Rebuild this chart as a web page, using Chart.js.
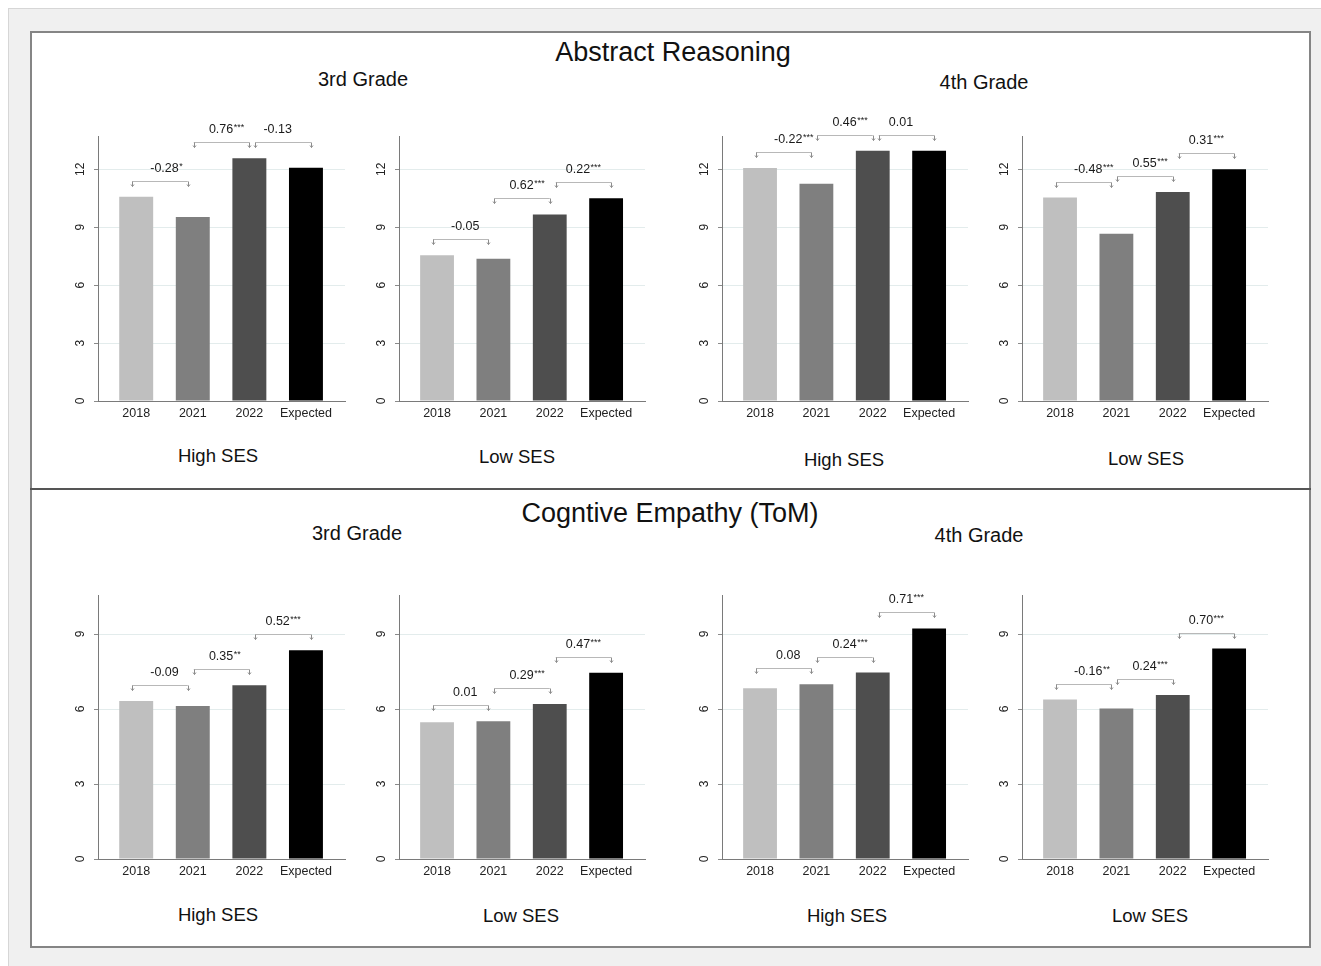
<!DOCTYPE html>
<html>
<head>
<meta charset="utf-8">
<script src="https://cdn.jsdelivr.net/npm/chart.js@4/dist/chart.umd.min.js"></script>
<style>
  body { margin:0; width:1321px; height:966px; position:relative; overflow:hidden; background:#fff;
         font-family:'Liberation Sans', Arial, Helvetica, sans-serif; color:#111; }
  .bg { position:absolute; left:8px; top:8px; width:1313px; height:958px; background:#f0f0f0;
        border-top:1px solid #d6d6d6; border-left:1px solid #d6d6d6; box-sizing:border-box; }
  .frame { position:absolute; left:30px; top:31px; width:1281px; height:917px; background:#fff;
           border:2px solid #858585; box-sizing:border-box; }
  .sep { position:absolute; left:30px; top:488px; width:1281px; height:2px; background:#555; }
  .t { position:absolute; transform:translate(-50%,-50%); white-space:nowrap; line-height:1; }
  .h1 { font-size:27px; }
  .h2 { font-size:20px; }
  .h3 { font-size:18.5px; }
  canvas { position:absolute; }
</style>
</head>
<body>
<div class="bg"></div>
<div class="frame"></div>
<div class="sep"></div>

<div class="t h1" style="left:673px;top:52px">Abstract Reasoning</div>
<div class="t h2" style="left:363px;top:79px">3rd Grade</div>
<div class="t h2" style="left:984px;top:82px">4th Grade</div>
<div class="t h3" style="left:218px;top:456px">High SES</div>
<div class="t h3" style="left:517px;top:457px">Low SES</div>
<div class="t h3" style="left:844px;top:460px">High SES</div>
<div class="t h3" style="left:1146px;top:459px">Low SES</div>

<div class="t h1" style="left:670px;top:513px">Cogntive Empathy (ToM)</div>
<div class="t h2" style="left:357px;top:533px">3rd Grade</div>
<div class="t h2" style="left:979px;top:535px">4th Grade</div>
<div class="t h3" style="left:218px;top:915px">High SES</div>
<div class="t h3" style="left:521px;top:916px">Low SES</div>
<div class="t h3" style="left:847px;top:916px">High SES</div>
<div class="t h3" style="left:1150px;top:916px">Low SES</div>

<script>
// categories and mean scores
var categories = ['2018', '2021', '2022', 'Expected'];

var abstractG3High = [10.57, 9.52, 12.57, 12.07];
var abstractG3Low  = [7.54, 7.37, 9.66, 10.50];
var abstractG4High = [12.06, 11.25, 12.96, 12.96];
var abstractG4Low  = [10.53, 8.66, 10.82, 12.00];

var tomG3High = [6.32, 6.12, 6.95, 8.35];
var tomG3Low  = [5.47, 5.51, 6.20, 7.45];
var tomG4High = [6.83, 6.99, 7.46, 9.22];
var tomG4Low  = [6.38, 6.02, 6.56, 8.42];

// effect sizes between consecutive bars
var abstractG3HighDiff = ['-0.28*', '0.76***', '-0.13'];
var abstractG3LowDiff  = ['-0.05', '0.62***', '0.22***'];
var abstractG4HighDiff = ['-0.22***', '0.46***', '0.01'];
var abstractG4LowDiff  = ['-0.48***', '0.55***', '0.31***'];
var tomG3HighDiff = ['-0.09', '0.35**', '0.52***'];
var tomG3LowDiff  = ['0.01', '0.29***', '0.47***'];
var tomG4HighDiff = ['0.08', '0.24***', '0.71***'];
var tomG4LowDiff  = ['-0.16**', '0.24***', '0.70***'];

var barColors = ['#bfbfbf', '#7f7f7f', '#4e4e4e', '#000000'];

Chart.defaults.font.family = "'Liberation Sans', Arial, Helvetica, sans-serif";
Chart.defaults.color = '#222';

var axisX = [98, 399, 722, 1022];
var rightX = [345, 645, 968, 1268];
var rowTop = [136, 595];
var rowBottom = [401, 859];
var rowMax = [13.72, 10.56];
var bracketShift = [-4, 1, 6];

var panels = [
  [abstractG3High, abstractG3HighDiff, 0, 0],
  [abstractG3Low, abstractG3LowDiff, 0, 1],
  [abstractG4High, abstractG4HighDiff, 0, 2],
  [abstractG4Low, abstractG4LowDiff, 0, 3],
  [tomG3High, tomG3HighDiff, 1, 0],
  [tomG3Low, tomG3LowDiff, 1, 1],
  [tomG4High, tomG4HighDiff, 1, 2],
  [tomG4Low, tomG4LowDiff, 1, 3]
];

var padTop = 45, yW = 50, xH = 30, padR = 6;

panels.forEach(function (p) {
  var values = p[0], diffs = p[1], r = p[2], c = p[3];
  var plotW = rightX[c] - axisX[c];
  var plotH = rowBottom[r] - rowTop[r];
  var cv = document.createElement('canvas');
  cv.width = yW + plotW + padR;
  cv.height = padTop + plotH + xH;
  cv.style.left = (axisX[c] - yW) + 'px';
  cv.style.top = (rowTop[r] - padTop) + 'px';
  document.body.appendChild(cv);

  new Chart(cv.getContext('2d'), {
    type: 'bar',
    data: {
      datasets: [{
        data: values.map(function (v, i) { return {x: i, y: v}; }),
        backgroundColor: barColors,
        borderWidth: 0,
        categoryPercentage: 1,
        barPercentage: 0.6
      }]
    },
    options: {
      responsive: false,
      animation: false,
      devicePixelRatio: 1,
      layout: { padding: { top: padTop, right: padR, left: 0, bottom: 0 } },
      plugins: { legend: { display: false }, tooltip: { enabled: false } },
      scales: {
        x: {
          type: 'linear',
          offset: false,
          min: -0.675,
          max: 3.69,
          afterBuildTicks: function (s) { s.ticks = categories.map(function (c, i) { return {value: i}; }); },
          afterFit: function (s) { s.height = xH; },
          grid: { display: false, drawTicks: false },
          border: { color: '#7a7a7a', width: 1 },
          ticks: {
            padding: 5,
            maxRotation: 0,
            font: { size: 12.5 },
            color: '#222',
            callback: function (v) { return categories[v]; }
          }
        },
        y: {
          min: 0,
          max: rowMax[r],
          afterBuildTicks: function (s) {
            var t = [];
            for (var v = 0; v <= rowMax[r]; v += 3) t.push({value: v});
            s.ticks = t;
          },
          afterFit: function (s) { s.width = yW; },
          grid: { color: '#e3ecec', lineWidth: 1, tickColor: '#8a8a8a', tickLength: 4 },
          border: { color: '#7a7a7a', width: 1 },
          ticks: { display: false }
        }
      }
    },
    plugins: [{
      id: 'annot',
      afterDraw: function (chart) {
        var ctx = chart.ctx, xs = chart.scales.x, ys = chart.scales.y;
        ctx.save();
        // rotated y tick labels
        ctx.fillStyle = '#222';
        ctx.font = "12px 'Liberation Sans', Arial, sans-serif";
        ctx.textAlign = 'center';
        ctx.textBaseline = 'middle';
        ys.ticks.forEach(function (t) {
          var py = ys.getPixelForValue(t.value);
          ctx.save();
          ctx.translate(chart.chartArea.left - 17, py);
          ctx.rotate(-Math.PI / 2);
          ctx.fillText(String(t.value), 0, 0);
          ctx.restore();
        });
        // comparison brackets
        for (var i = 0; i < diffs.length; i++) {
          var c1 = xs.getPixelForValue(i), c2 = xs.getPixelForValue(i + 1);
          var x1 = c1 + bracketShift[i], x2 = c2 + bracketShift[i] - 1;
          var yb = Math.round(Math.min(ys.getPixelForValue(values[i]), ys.getPixelForValue(values[i + 1])) - 16) + 0.5;
          ctx.strokeStyle = '#b8b8b8';
          ctx.lineWidth = 1;
          ctx.beginPath();
          ctx.moveTo(x1, yb); ctx.lineTo(x2, yb);
          ctx.stroke();
          ctx.strokeStyle = '#8c8c8c';
          [x1, x2].forEach(function (xx) {
            var ax = Math.round(xx) + 0.5;
            ctx.beginPath();
            ctx.moveTo(ax, yb); ctx.lineTo(ax, yb + 5);
            ctx.moveTo(ax - 1.5, yb + 3); ctx.lineTo(ax, yb + 5); ctx.lineTo(ax + 1.5, yb + 3);
            ctx.stroke();
          });
          var m = diffs[i].match(/^(.*?)(\**)$/);
          var mid = (c1 + c2) / 2;
          ctx.fillStyle = '#1a1a1a';
          ctx.textBaseline = 'alphabetic';
          ctx.textAlign = 'center';
          ctx.font = "12.5px 'Liberation Sans', Arial, sans-serif";
          var wNum = ctx.measureText(m[1]).width;
          ctx.fillText(m[1], mid, yb - 9.5);
          if (m[2]) {
            ctx.textAlign = 'left';
            ctx.font = "9px 'Liberation Sans', Arial, sans-serif";
            ctx.fillText(m[2], mid + wNum / 2 + 0.5, yb - 12.5);
          }
        }
        ctx.restore();
      }
    }]
  });
});
</script>
</body>
</html>
